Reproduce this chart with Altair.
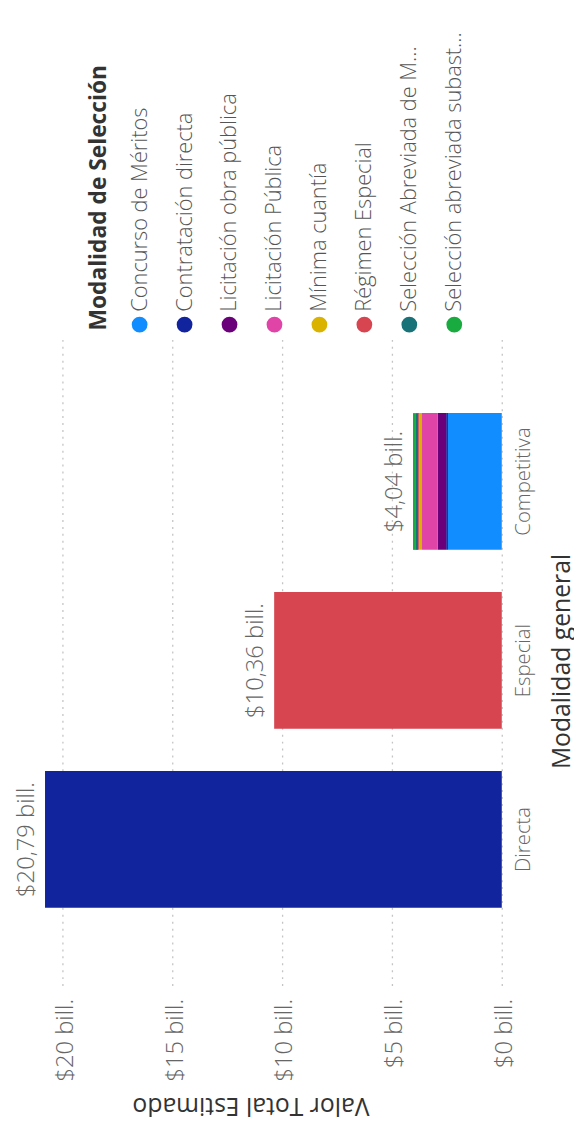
import altair as alt
import pandas as pd

# ---------------- data ----------------
categorias = ["Competitiva", "Especial", "Directa"]  # shown top -> bottom
modalidades = [
    "Concurso de Méritos",
    "Contratación directa",
    "Licitación obra pública",
    "Licitación Pública",
    "Mínima cuantía",
    "Régimen Especial",
    "Selección Abreviada de M...",
    "Selección abreviada subast...",
]
colores = ["#118DFF", "#12239E", "#6B007B", "#E044A7", "#D9B300", "#D64550", "#197278", "#1AAB40"]
valores_directa = [0, 20.79, 0, 0, 0, 0, 0, 0]
valores_especial = [0, 0, 0, 0, 0, 10.36, 0, 0]
valores_competitiva = [2.45, 0.08, 0.38, 0.72, 0.14, 0.04, 0.13, 0.10]
ticks_valor = [0, 5, 10, 15, 20]
titulo_leyenda = "Modalidad de Selección"
titulo_x = "Valor Total Estimado"
titulo_y = "Modalidad general"

rows = []
for cat, vals in [("Directa", valores_directa), ("Especial", valores_especial),
                  ("Competitiva", valores_competitiva)]:
    for i, (m, v) in enumerate(zip(modalidades, vals)):
        if v > 0:
            rows.append({"categoria": cat, "modalidad": m, "valor": v, "orden": i})
df = pd.DataFrame(rows)

ley_df = pd.DataFrame({
    "nombre": [titulo_leyenda] + modalidades,
    "tipo": ["titulo"] + ["item"] * len(modalidades),
})

FONT = "Open Sans"
color_scale = alt.Scale(domain=modalidades, range=colores)

W = 494
H = 657

x_scale = alt.Scale(domain=[0, 22.25], reverse=True, nice=False, zero=True)
x_axis = alt.Axis(
    values=ticks_valor,
    labelExpr="'$' + datum.value + ' bill.'",
    labelAngle=270, labelAlign="right", labelBaseline="middle",
    labelPadding=13, labelOffset=3, labelFontSize=24, labelColor="#666666", labelFont=FONT,
    labelFontWeight=300,
    ticks=False, domain=False,
    grid=True, gridColor="#c4c4c4", gridDash=[2, 5], gridWidth=1.3,
    title=titulo_x, titleAngle=180, titleX=240, titleY=121,
    titleAlign="center", titleBaseline="middle",
    titleFontSize=25, titleFontWeight="normal", titleColor="#333333", titleFont=FONT,
)
y_scale = alt.Scale(domain=categorias, paddingInner=0.236, paddingOuter=0.434)
y_axis = alt.Axis(
    orient="right",
    labelAngle=270, labelAlign="center", labelBaseline="middle",
    labelPadding=22, labelFontSize=20.5, labelColor="#666666", labelFont=FONT,
    labelFontWeight=300,
    ticks=False, domain=False, grid=False,
    title=titulo_y, titleAngle=270, titleX=60, titleY=329,
    titleAlign="center", titleBaseline="middle",
    titleFontSize=25, titleFontWeight="normal", titleColor="#333333", titleFont=FONT,
)

bars = alt.Chart(df).mark_bar().encode(
    x=alt.X("valor:Q", stack="zero", scale=x_scale, axis=x_axis),
    y=alt.Y("categoria:N", sort=categorias, scale=y_scale, axis=y_axis),
    color=alt.Color("modalidad:N", scale=color_scale, legend=None),
    order=alt.Order("orden:Q", sort="ascending"),
)

labels = alt.Chart(df).transform_aggregate(
    total="sum(valor)", groupby=["categoria"]
).transform_calculate(
    etiqueta="'$' + replace(format(datum.total, '.2f'), '.', ',') + ' bill.'"
).mark_text(
    angle=270, align="center", baseline="bottom", dy=-6,
    fontSize=24, font=FONT, fontWeight=300, color="#666666",
).encode(
    x=alt.X("total:Q", scale=x_scale, axis=x_axis),
    y=alt.Y("categoria:N", sort=categorias, scale=y_scale, axis=y_axis),
    text="etiqueta:N",
)

main = alt.layer(bars, labels).properties(width=W, height=H)

# ---------------- legend (rotated) ----------------
lx = alt.X("nombre:N", scale=alt.Scale(type="point", padding=0,
                                       domain=[titulo_leyenda] + modalidades,
                                       range=[82.6, 446]), axis=None)
ley_base = alt.Chart(ley_df)
ley_circ = ley_base.transform_filter("datum.tipo == 'item'").mark_circle(size=254, opacity=1).encode(
    x=lx, y=alt.value(314),
    color=alt.Color("nombre:N", scale=color_scale, legend=None),
)
ley_txt = ley_base.transform_filter("datum.tipo == 'item'").mark_text(
    angle=270, align="left", baseline="middle", fontSize=22, font=FONT,
    fontWeight=300, color="#555555",
).encode(x=lx, y=alt.value(301), text="nombre:N")
ley_tit = ley_base.transform_filter("datum.tipo == 'titulo'").mark_text(
    angle=270, align="left", baseline="middle", fontSize=23, font=FONT,
    fontWeight="bold", color="#333333", dy=4,
).encode(x=lx, y=alt.value(320), text="nombre:N")
legend = alt.layer(ley_circ, ley_txt, ley_tit).properties(width=W, height=325)

chart = alt.vconcat(legend, main, spacing=0).resolve_scale(
    x="independent", y="independent", color="independent"
).properties(
    padding={"left": 5, "top": 0, "right": 0, "bottom": 0}
).configure(font=FONT).configure_view(strokeWidth=0, stroke="transparent")

chart.save("out.html", embed_options={"renderer": "svg", "actions": False})
